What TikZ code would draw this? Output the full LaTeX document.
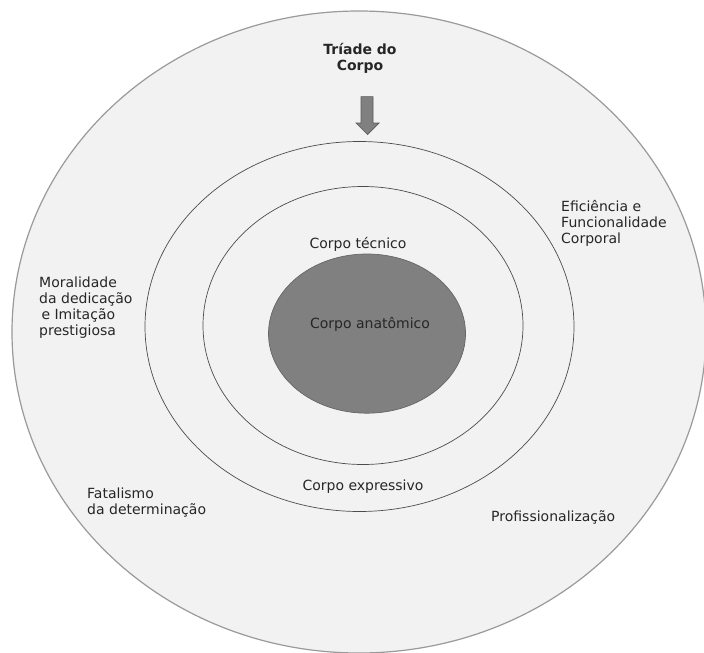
\documentclass[tikz,border=0pt]{standalone}
\usepackage{fontspec}
\setmainfont{DejaVu Sans}
\usepackage{tikz}
\usetikzlibrary{positioning}
\usepackage{xcolor}
\definecolor{fundo}{HTML}{F2F2F2}
\definecolor{cinza}{HTML}{808080}
\definecolor{borda}{HTML}{9A9A9A}
\def\outerellipse{ (359,332) ellipse (347 and 321)}
\def\middleellipse{(359.5,326.5) ellipse (214.5 and 185)}
\def\innerellipse{ (363,325.5) ellipse (160 and 139)}
\def\coreellipse{ (367,333.6) ellipse (98.5 and 79.6)}
\tikzset{
  rotulo/.style={inner sep=0pt, font=\fontsize{14}{16.3}\selectfont, text=black!85},
}

\begin{document}
\begin{tikzpicture}[x=1pt, y=-1pt]
    \useasboundingbox (0,0) rectangle (704,653);
    % Elipse externa
    \fill[white] (0,0) rectangle (704,653);
    \fill[fundo] \outerellipse;
    \draw[borda, line width=1.2pt] \outerellipse;
    % Corpo expressivo e corpo tecnico
    \draw[black!70, line width=0.7pt] \middleellipse;
    \draw[black!70, line width=0.7pt] \innerellipse;
    % Corpo anatomico
    \fill[cinza] \coreellipse;
    \draw[black!60, line width=0.7pt] \coreellipse;
    % Seta
    \draw[fill=cinza, draw=black!65, line width=0.7pt]
        (361,96.6) -- (373,96.6) -- (373,123) -- (379,123) -- (367.5,134.5)
        -- (356,123) -- (361,123) -- cycle;
    % Textos (base = ultima linha)
    \node[rotulo, anchor=base, align=center, font=\fontsize{14}{16.3}\selectfont\bfseries]
        (titulo) at (360,70.3) {Tríade do\\Corpo};
    \node[rotulo, anchor=base west, align=left] (eficiencia) at (561,243.6)
        {Eficiência e\\Funcionalidade\\Corporal};
    \node[rotulo, anchor=base] (tecnico) at (358,248) {Corpo técnico};
    \node[rotulo, anchor=base] (anatomico) at (370,328) {Corpo anatômico};
    \node[rotulo, anchor=base west, align=left] (moralidade) at (39,335.9)
        {Moralidade\\da dedicação\\\hphantom{\,}e Imitação\\prestigiosa};
    \node[rotulo, anchor=base west, align=left] (fatalismo) at (87,514.3)
        {Fatalismo\\da determinação};
    \node[rotulo, anchor=base] (expressivo) at (363,490) {Corpo expressivo};
    \node[rotulo, anchor=base west] (profissional) at (491,521) {Profissionalização};
\end{tikzpicture}
\end{document}
